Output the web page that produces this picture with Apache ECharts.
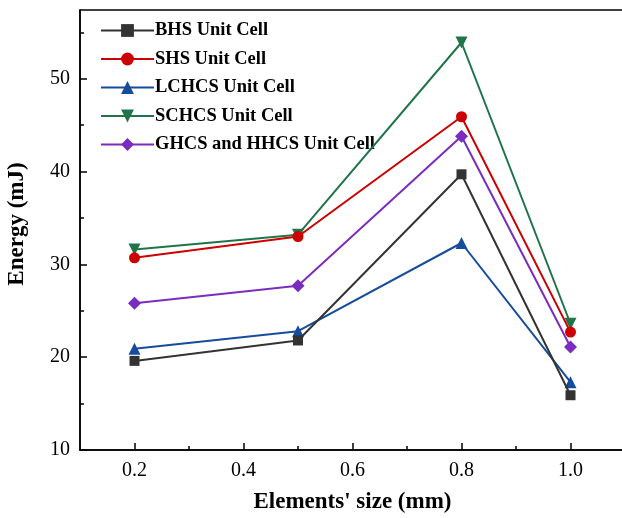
<!DOCTYPE html>
<html><head><meta charset="utf-8">
<script src="https://cdn.jsdelivr.net/npm/echarts@6/dist/echarts.min.js"></script>
<style>html,body{margin:0;padding:0;background:#fff}#c{width:622px;height:518px}</style>
</head><body><div id="c"></div>
<script>
const sizes = [0.2, 0.5, 0.8, 1.0];
const bhs = [19.6, 21.8, 39.7, 15.9];
const shs = [30.7, 33.0, 45.9, 22.7];
const lchcs = [20.9, 22.8, 32.3, 17.3];
const schcs = [31.6, 33.2, 53.9, 23.6];
const ghcs = [25.8, 27.7, 43.8, 21.1];
const seriesNames = ['BHS Unit Cell','SHS Unit Cell','LCHCS Unit Cell','SCHCS Unit Cell','GHCS and HHCS Unit Cell'];
const xMajorTicks = [0.2, 0.4, 0.6, 0.8, 1.0];
const xMinorTicks = [0.3, 0.5, 0.7, 0.9];
const yMajorTicks = [10, 20, 30, 40, 50];
const yMinorTicks = [15, 25, 35, 45, 55];

const font = 'Liberation Serif';
const colors = ['#333333', '#cc0000', '#164c9c', '#20744a', '#7b2cbf'];
const symbols = ['rect', 'circle', 'triangle', 'path://M0,0 L10,0 L5,9 Z', 'diamond'];
const symSizes = [10, 11, 12, 12, 13];
const allData = [bhs, shs, lchcs, schcs, ghcs];

const chart = echarts.init(document.getElementById('c'));
const xBase = {type:'value', min:0.1, max:1.1, gridIndex:0};
const yBase = {type:'value', min:10, max:57.4, gridIndex:0};
chart.setOption({
  backgroundColor:'#fff',
  animation:false,
  grid:{left:80, right:-3, top:10, bottom:68, show:true, borderColor:'#000', borderWidth:1.5,
    backgroundColor:'transparent', outerBoundsMode:'none', containLabel:false},
  legend:{
    orient:'vertical', left:100, top:21, padding:0, itemGap:9.5, itemWidth:53, itemHeight:16,
    textStyle:{fontFamily:font, fontWeight:'bold', fontSize:18.5, color:'#000', padding:[0,0,0,-4]},
    data:seriesNames
  },
  xAxis:[
    Object.assign({}, xBase, {
      position:'bottom',
      name:"Elements' size (mm)", nameLocation:'middle', nameGap:41,
      nameTextStyle:{fontFamily:font, fontWeight:'bold', fontSize:23, color:'#000'},
      axisLine:{onZero:false, lineStyle:{color:'#000', width:1.5}},
      axisTick:{inside:true, length:7, customValues:xMajorTicks, lineStyle:{color:'#000', width:1.5}},
      axisLabel:{customValues:xMajorTicks, fontFamily:font, fontSize:20, color:'#000', margin:11,
        formatter:v=>v.toFixed(1)},
      splitLine:{show:false}
    }),
    Object.assign({}, xBase, {
      position:'bottom',
      axisLine:{show:false},
      axisTick:{inside:true, length:4, customValues:xMinorTicks, lineStyle:{color:'#000', width:1.5}},
      axisLabel:{show:false}, splitLine:{show:false}
    })
  ],
  yAxis:[
    Object.assign({}, yBase, {
      position:'left',
      name:'Energy (mJ)', nameLocation:'middle', nameGap:51,
      nameTextStyle:{fontFamily:font, fontWeight:'bold', fontSize:23, color:'#000', padding:[0,0,0,12]},
      axisLine:{onZero:false, lineStyle:{color:'#000', width:1.5}},
      axisTick:{inside:true, length:7, customValues:yMajorTicks, lineStyle:{color:'#000', width:1.5}},
      axisLabel:{customValues:yMajorTicks, fontFamily:font, fontSize:20, color:'#000', margin:10},
      splitLine:{show:false}
    }),
    Object.assign({}, yBase, {
      position:'left',
      axisLine:{show:false},
      axisTick:{inside:true, length:4, customValues:yMinorTicks, lineStyle:{color:'#000', width:1.5}},
      axisLabel:{show:false}, splitLine:{show:false}
    })
  ],
  series: seriesNames.map((n,i)=>({
    name:n, type:'line', xAxisIndex:0, yAxisIndex:0,
    data: sizes.map((x,j)=>[x, allData[i][j]]),
    symbol: symbols[i], symbolSize: symSizes[i], showAllSymbol:true,
    color: colors[i],
    lineStyle:{color:colors[i], width:2},
    itemStyle:{color:colors[i]},
    z: 10 - i
  }))
});
</script></body></html>
